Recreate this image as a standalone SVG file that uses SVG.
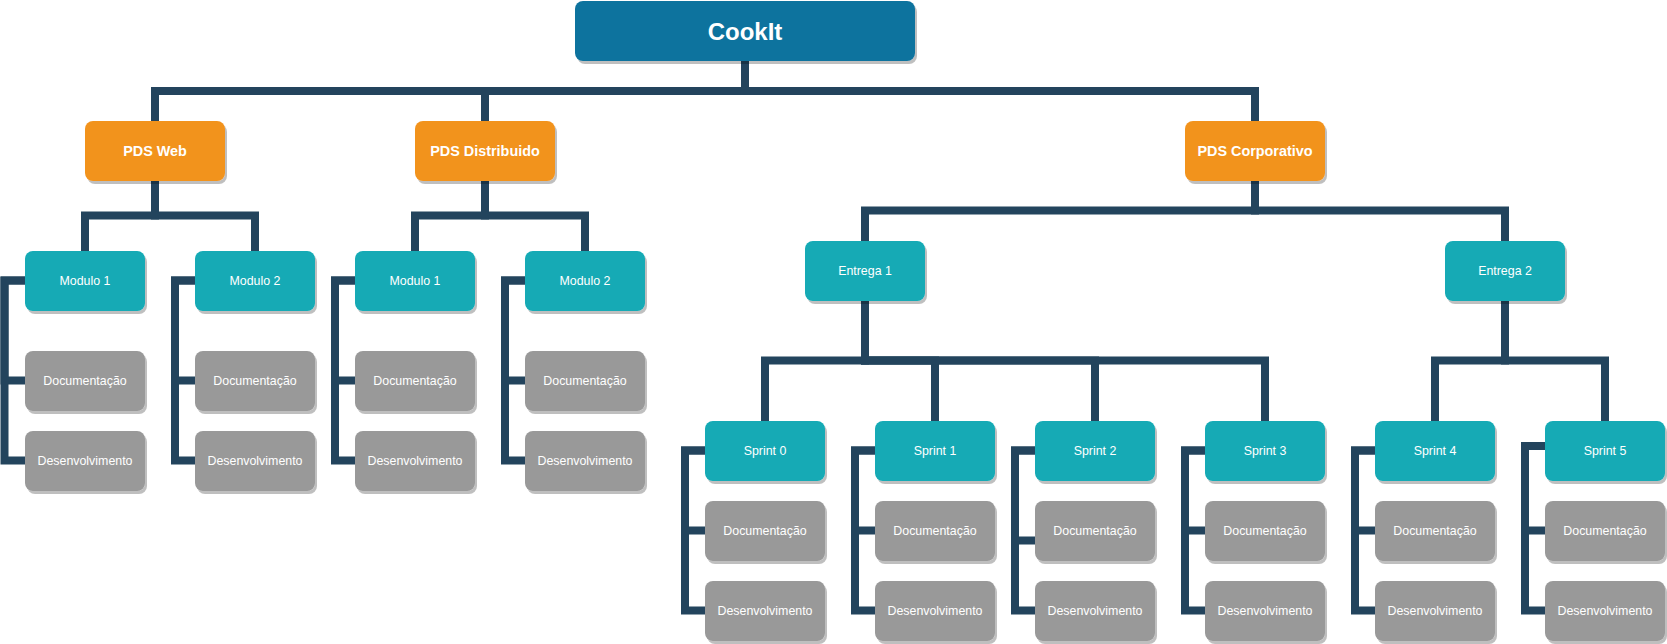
<svg xmlns="http://www.w3.org/2000/svg" width="1667" height="644" viewBox="0 0 1667 644">
<style>
.c{fill:none;stroke:#23445D;stroke-width:8;stroke-linejoin:miter;stroke-linecap:butt}
.b{filter:url(#sh)}
.root{fill:#10739E}
.pds{fill:#F2931E}
.teal{fill:#12AAB5}
.gray{fill:#999999}
text{font-family:"Liberation Sans",Arial,sans-serif;fill:#FFFFFF;text-anchor:middle}
.t0{font-size:24px;font-weight:bold}
.t1{font-size:14.4px;font-weight:bold}
.t2{font-size:12.4px}
</style>
<defs>
<filter id="sh" x="-10%" y="-10%" width="130%" height="140%">
<feDropShadow dx="2" dy="3" stdDeviation="0.7" flood-color="#000000" flood-opacity="0.25"/>
</filter>
</defs>
<g id="connectors">
<path class="c" d="M745,61V91H155V121"/>
<path class="c" d="M745,61V91H485V121"/>
<path class="c" d="M745,61V91H1255V121"/>
<path class="c" d="M155,181V215.5H85V251"/>
<path class="c" d="M155,181V215.5H255V251"/>
<path class="c" d="M485,181V215.5H415V251"/>
<path class="c" d="M485,181V215.5H585V251"/>
<path class="c" d="M1255,181V210.5H865V241"/>
<path class="c" d="M1255,181V210.5H1505V241"/>
<path class="c" d="M865,301V360.5H765V421"/>
<path class="c" d="M865,301V360.5H935V421"/>
<path class="c" d="M865,301V360.5H1095V421"/>
<path class="c" d="M865,301V360.5H1265V421"/>
<path class="c" d="M1505,301V360.5H1435V421"/>
<path class="c" d="M1505,301V360.5H1605V421"/>
<path class="c" d="M25,280.5H4.5V380.5H25"/>
<path class="c" d="M25,280.5H4.5V460.5H25"/>
<path class="c" d="M195,280.5H175V380.5H195"/>
<path class="c" d="M195,280.5H175V460.5H195"/>
<path class="c" d="M355,280.5H335V380.5H355"/>
<path class="c" d="M355,280.5H335V460.5H355"/>
<path class="c" d="M525,280.5H505V380.5H525"/>
<path class="c" d="M525,280.5H505V460.5H525"/>
<path class="c" d="M705,450.5H685V530.5H705"/>
<path class="c" d="M705,450.5H685V610.5H705"/>
<path class="c" d="M875,450.5H855V530.5H875"/>
<path class="c" d="M875,450.5H855V610.5H875"/>
<path class="c" d="M1035,450.5H1015V540.5H1035"/>
<path class="c" d="M1035,450.5H1015V610.5H1035"/>
<path class="c" d="M1205,450.5H1185V530.5H1205"/>
<path class="c" d="M1205,450.5H1185V610.5H1205"/>
<path class="c" d="M1375,450.5H1355V530.5H1375"/>
<path class="c" d="M1375,450.5H1355V610.5H1375"/>
<path class="c" d="M1545,446H1525V530.5H1545"/>
<path class="c" d="M1545,446H1525V610.5H1545"/>
</g>
<g id="n-cookit"><rect class="b root" x="575" y="1" width="340" height="60" rx="8"/><text class="t0" x="745" y="39.5">CookIt</text></g>
<g id="n-pdsweb"><rect class="b pds" x="85" y="121" width="140" height="60" rx="8"/><text class="t1" x="155" y="156">PDS Web</text></g>
<g id="n-pdsdist"><rect class="b pds" x="415" y="121" width="140" height="60" rx="8"/><text class="t1" x="485" y="156">PDS Distribuido</text></g>
<g id="n-pdscorp"><rect class="b pds" x="1185" y="121" width="140" height="60" rx="8"/><text class="t1" x="1255" y="156">PDS Corporativo</text></g>
<g id="n-web-m1"><rect class="b teal" x="25" y="251" width="120" height="60" rx="8"/><text class="t2" x="85" y="285.3">Modulo 1</text></g>
<g id="n-web-m2"><rect class="b teal" x="195" y="251" width="120" height="60" rx="8"/><text class="t2" x="255" y="285.3">Modulo 2</text></g>
<g id="n-dist-m1"><rect class="b teal" x="355" y="251" width="120" height="60" rx="8"/><text class="t2" x="415" y="285.3">Modulo 1</text></g>
<g id="n-dist-m2"><rect class="b teal" x="525" y="251" width="120" height="60" rx="8"/><text class="t2" x="585" y="285.3">Modulo 2</text></g>
<g id="n-web-m1-doc"><rect class="b gray" x="25" y="351" width="120" height="60" rx="8"/><text class="t2" x="85" y="385.3">Documentação</text></g>
<g id="n-web-m1-dev"><rect class="b gray" x="25" y="431" width="120" height="60" rx="8"/><text class="t2" x="85" y="465.3">Desenvolvimento</text></g>
<g id="n-web-m2-doc"><rect class="b gray" x="195" y="351" width="120" height="60" rx="8"/><text class="t2" x="255" y="385.3">Documentação</text></g>
<g id="n-web-m2-dev"><rect class="b gray" x="195" y="431" width="120" height="60" rx="8"/><text class="t2" x="255" y="465.3">Desenvolvimento</text></g>
<g id="n-dist-m1-doc"><rect class="b gray" x="355" y="351" width="120" height="60" rx="8"/><text class="t2" x="415" y="385.3">Documentação</text></g>
<g id="n-dist-m1-dev"><rect class="b gray" x="355" y="431" width="120" height="60" rx="8"/><text class="t2" x="415" y="465.3">Desenvolvimento</text></g>
<g id="n-dist-m2-doc"><rect class="b gray" x="525" y="351" width="120" height="60" rx="8"/><text class="t2" x="585" y="385.3">Documentação</text></g>
<g id="n-dist-m2-dev"><rect class="b gray" x="525" y="431" width="120" height="60" rx="8"/><text class="t2" x="585" y="465.3">Desenvolvimento</text></g>
<g id="n-entrega1"><rect class="b teal" x="805" y="241" width="120" height="60" rx="8"/><text class="t2" x="865" y="275.3">Entrega 1</text></g>
<g id="n-entrega2"><rect class="b teal" x="1445" y="241" width="120" height="60" rx="8"/><text class="t2" x="1505" y="275.3">Entrega 2</text></g>
<g id="n-s0"><rect class="b teal" x="705" y="421" width="120" height="60" rx="8"/><text class="t2" x="765" y="455.3">Sprint 0</text></g>
<g id="n-s1"><rect class="b teal" x="875" y="421" width="120" height="60" rx="8"/><text class="t2" x="935" y="455.3">Sprint 1</text></g>
<g id="n-s2"><rect class="b teal" x="1035" y="421" width="120" height="60" rx="8"/><text class="t2" x="1095" y="455.3">Sprint 2</text></g>
<g id="n-s3"><rect class="b teal" x="1205" y="421" width="120" height="60" rx="8"/><text class="t2" x="1265" y="455.3">Sprint 3</text></g>
<g id="n-s4"><rect class="b teal" x="1375" y="421" width="120" height="60" rx="8"/><text class="t2" x="1435" y="455.3">Sprint 4</text></g>
<g id="n-s5"><rect class="b teal" x="1545" y="421" width="120" height="60" rx="8"/><text class="t2" x="1605" y="455.3">Sprint 5</text></g>
<g id="n-s0-doc"><rect class="b gray" x="705" y="501" width="120" height="60" rx="8"/><text class="t2" x="765" y="535.3">Documentação</text></g>
<g id="n-s0-dev"><rect class="b gray" x="705" y="581" width="120" height="60" rx="8"/><text class="t2" x="765" y="615.3">Desenvolvimento</text></g>
<g id="n-s1-doc"><rect class="b gray" x="875" y="501" width="120" height="60" rx="8"/><text class="t2" x="935" y="535.3">Documentação</text></g>
<g id="n-s1-dev"><rect class="b gray" x="875" y="581" width="120" height="60" rx="8"/><text class="t2" x="935" y="615.3">Desenvolvimento</text></g>
<g id="n-s2-doc"><rect class="b gray" x="1035" y="501" width="120" height="60" rx="8"/><text class="t2" x="1095" y="535.3">Documentação</text></g>
<g id="n-s2-dev"><rect class="b gray" x="1035" y="581" width="120" height="60" rx="8"/><text class="t2" x="1095" y="615.3">Desenvolvimento</text></g>
<g id="n-s3-doc"><rect class="b gray" x="1205" y="501" width="120" height="60" rx="8"/><text class="t2" x="1265" y="535.3">Documentação</text></g>
<g id="n-s3-dev"><rect class="b gray" x="1205" y="581" width="120" height="60" rx="8"/><text class="t2" x="1265" y="615.3">Desenvolvimento</text></g>
<g id="n-s4-doc"><rect class="b gray" x="1375" y="501" width="120" height="60" rx="8"/><text class="t2" x="1435" y="535.3">Documentação</text></g>
<g id="n-s4-dev"><rect class="b gray" x="1375" y="581" width="120" height="60" rx="8"/><text class="t2" x="1435" y="615.3">Desenvolvimento</text></g>
<g id="n-s5-doc"><rect class="b gray" x="1545" y="501" width="120" height="60" rx="8"/><text class="t2" x="1605" y="535.3">Documentação</text></g>
<g id="n-s5-dev"><rect class="b gray" x="1545" y="581" width="120" height="60" rx="8"/><text class="t2" x="1605" y="615.3">Desenvolvimento</text></g>
</svg>
